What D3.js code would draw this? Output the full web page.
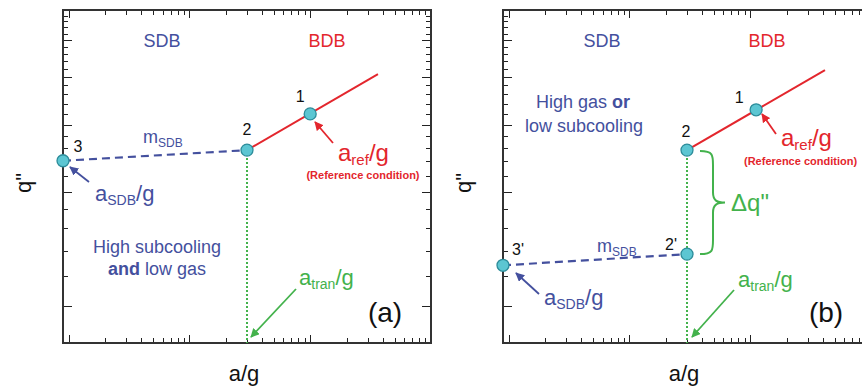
<!DOCTYPE html>
<html>
<head>
<meta charset="utf-8">
<script src="https://cdn.jsdelivr.net/npm/d3@7"></script>
<style>
  body { margin: 0; background: #fff; }
  svg { font-family: "Liberation Sans", Arial, sans-serif; }
</style>
</head>
<body>
<div id="chart"></div>
<script>
// axis ranges (log-log)
var xDomain = [0.009, 10];
var yDomain = [0.8, 6];
var xMajor = [0.01, 0.1, 1, 10];
var yMajor = [1, 2, 3, 4, 5];

// panel (a)
var ptsA = [{lab: "1", x: 1.0, y: 3.2}, {lab: "2", x: 0.3, y: 2.57}, {lab: "3", x: 0.009, y: 2.41}];
var bdbA = [[0.3, 2.57], [3.64, 4.07]];
var sdbA = [[0.009, 2.41], [0.3, 2.57]];

// panel (b)
var ptsB = [{lab: "1", x: 1.12, y: 3.28}, {lab: "2", x: 0.3, y: 2.57}, {lab: "2'", x: 0.3, y: 1.37}, {lab: "3'", x: 0.009, y: 1.28}];
var bdbB = [[0.3, 2.57], [4.16, 4.17]];
var sdbB = [[0.009, 1.28], [0.3, 1.37]];

var aTran = 0.3;

var blue = "#44509e", red = "#e3262d", green = "#43b24c";

var W = 368, H = 333;
var svg = d3.select("#chart").append("svg")
            .attr("width", 862)
            .attr("height", 391);

var defs = svg.append("defs");
[["blue", blue], ["red", red], ["green", green]].forEach(function(c) {
    defs.append("marker")
        .attr("id", "arr-" + c[0])
        .attr("viewBox", "0 0 10 10")
        .attr("refX", 9).attr("refY", 5)
        .attr("markerWidth", 5).attr("markerHeight", 5)
        .attr("markerUnits", "strokeWidth")
        .attr("orient", "auto")
        .append("path")
        .attr("d", "M0,0L10,5L0,10z")
        .attr("fill", c[1]);
});

var minorX = [];
[0.001, 0.01, 0.1, 1].forEach(function(d) {
    d3.range(2, 10).forEach(function(k) { minorX.push(d * k); });
});
var minorY = [];
yMajor.forEach(function(m) {
    [0.2, 0.4, 0.6, 0.8].forEach(function(f) { minorY.push(m + f); });
});

// text with optional subscripts: parts = [text, size, sub, bold]
function rich(g, x, y, parts, color, anchor) {
    var t = g.append("text")
        .attr("x", x).attr("y", y)
        .attr("fill", color)
        .attr("text-anchor", anchor || "start");
    var shift = 0;
    parts.forEach(function(p) {
        var dy = 0;
        if (p[2] && shift == 0) { dy = 4; shift = 4; }
        else if (!p[2] && shift != 0) { dy = -shift; shift = 0; }
        t.append("tspan")
            .attr("dy", dy)
            .attr("font-size", p[1])
            .attr("font-weight", p[3] ? "bold" : "normal")
            .text(p[0]);
    });
    return t;
}

function arrow(g, x1, y1, x2, y2, color, name) {
    g.append("line")
        .attr("x1", x1).attr("y1", y1)
        .attr("x2", x2).attr("y2", y2)
        .attr("stroke", color)
        .attr("stroke-width", 1.8)
        .attr("marker-end", "url(#arr-" + name + ")");
}

function drawPanel(left, pts, bdb, sdb, opts) {
    var g = svg.append("g").attr("transform", "translate(" + left + ",10)");
    var x = d3.scaleLog().domain(xDomain).range([0, W]);
    var y = d3.scaleLog().domain(yDomain).range([H, 0]);

    // ticks on all four sides, pointing inward
    var xm = xMajor.filter(function(v) { return v >= xDomain[0] && v <= xDomain[1]; });
    var xn = minorX.filter(function(v) { return v >= xDomain[0] && v <= xDomain[1]; });
    var tk = g.append("g").attr("stroke", "#222").attr("stroke-width", 1.5)
              .attr("shape-rendering", "crispEdges");
    function xt(vals, len) {
        vals.forEach(function(v) {
            var px = Math.round(x(v)) + 0.5;
            tk.append("line").attr("x1", px).attr("x2", px).attr("y1", H).attr("y2", H - len);
            tk.append("line").attr("x1", px).attr("x2", px).attr("y1", 0).attr("y2", len);
        });
    }
    function yt(vals, len) {
        vals.forEach(function(v) {
            var py = Math.round(y(v)) + 0.5;
            tk.append("line").attr("x1", 0).attr("x2", len).attr("y1", py).attr("y2", py);
            tk.append("line").attr("x1", W).attr("x2", W - len).attr("y1", py).attr("y2", py);
        });
    }
    xt(xm, 8); xt(xn, 5);
    yt(yMajor, 9); yt(minorY, 5);

    g.append("rect")
        .attr("width", W).attr("height", H)
        .attr("fill", "none")
        .attr("stroke", "#333")
        .attr("stroke-width", 2);

    var line = d3.line().x(function(d) { return x(d[0]); }).y(function(d) { return y(d[1]); });

    // transition line
    g.append("line")
        .attr("x1", x(aTran)).attr("x2", x(aTran))
        .attr("y1", y(bdb[0][1])).attr("y2", H)
        .attr("stroke", green)
        .attr("stroke-width", 2)
        .attr("stroke-dasharray", "2,2");

    g.append("path").attr("d", line(sdb))
        .attr("fill", "none").attr("stroke", blue)
        .attr("stroke-width", 2.2).attr("stroke-dasharray", "8,5");
    g.append("path").attr("d", line(bdb))
        .attr("fill", "none").attr("stroke", red)
        .attr("stroke-width", 2);

    g.selectAll("circle.pt").data(pts).enter().append("circle")
        .attr("class", "pt")
        .attr("cx", function(d) { return x(d.x); })
        .attr("cy", function(d) { return y(d.y); })
        .attr("r", 6)
        .attr("fill", "#5cc6d2")
        .attr("stroke", "#2c8c9a")
        .attr("stroke-width", 1.3);

    g.selectAll("text.plab").data(pts).enter().append("text")
        .attr("class", "plab")
        .attr("x", function(d) { return x(d.x) + opts.labOff[d.lab][0]; })
        .attr("y", function(d) { return y(d.y) + opts.labOff[d.lab][1]; })
        .attr("text-anchor", "middle")
        .attr("font-size", 16)
        .attr("fill", "#111")
        .text(function(d) { return d.lab; });

    g.append("text").attr("x", 99).attr("y", 37).attr("text-anchor", "middle")
        .attr("font-size", 18).attr("fill", blue).text("SDB");
    g.append("text").attr("x", 264).attr("y", 37).attr("text-anchor", "middle")
        .attr("font-size", 18).attr("fill", red).text("BDB");

    opts.extra(g, x, y);

    rich(g, W / 2 - 3, 371, [["a/g", 22]], "#111", "middle");
    svg.append("text")
        .attr("transform", "translate(" + (left - 32) + ",183) rotate(-90)")
        .attr("text-anchor", "middle")
        .attr("font-size", 22)
        .attr("fill", "#111")
        .text("q\"");
    return g;
}

drawPanel(63, ptsA, bdbA, sdbA, {
    labOff: {"1": [-10, -12], "2": [0, -15], "3": [15, -9]},
    extra: function(g, x, y) {
        rich(g, 80, 133, [["m", 18], ["SDB", 12, true]], blue);
        rich(g, 275, 151, [["a", 24], ["ref", 15, true], ["/g", 24]], red);
        g.append("text").attr("x", 300).attr("y", 169).attr("text-anchor", "middle")
            .attr("font-size", 11).attr("font-weight", "bold").attr("fill", red)
            .text("(Reference condition)");
        arrow(g, 270, 133, 252, 112, red, "red");
        rich(g, 32, 191, [["a", 22], ["SDB", 14, true], ["/g", 22]], blue);
        arrow(g, 26, 172, 7, 157, blue, "blue");
        rich(g, 94, 243, [["High subcooling", 18]], blue, "middle");
        rich(g, 94, 265, [["and", 18, false, true], [" low gas", 18]], blue, "middle");
        rich(g, 236, 275, [["a", 22], ["tran", 14, true], ["/g", 22]], green);
        arrow(g, 233, 279, 188, 327, green, "green");
        g.append("text").attr("x", 322).attr("y", 312).attr("text-anchor", "middle")
            .attr("font-size", 28).attr("fill", "#111").text("(a)");
    }
});

drawPanel(503, ptsB, bdbB, sdbB, {
    labOff: {"1": [-17, -7], "2": [-1, -13], "2'": [-16, -4], "3'": [15, -10]},
    extra: function(g, x, y) {
        rich(g, 80, 98, [["High gas ", 18], ["or", 18, false, true]], blue, "middle");
        rich(g, 81, 122, [["low subcooling", 18]], blue, "middle");
        rich(g, 278, 136, [["a", 24], ["ref", 15, true], ["/g", 24]], red);
        g.append("text").attr("x", 241).attr("y", 155)
            .attr("font-size", 11).attr("font-weight", "bold").attr("fill", red)
            .text("(Reference condition)");
        arrow(g, 273, 124, 259, 104, red, "red");
        rich(g, 94, 242, [["m", 18], ["SDB", 12, true]], blue);
        rich(g, 41, 295, [["a", 22], ["SDB", 14, true], ["/g", 22]], blue);
        arrow(g, 36, 284, 13, 263, blue, "blue");
        rich(g, 235, 277, [["a", 22], ["tran", 14, true], ["/g", 22]], green);
        arrow(g, 231, 280, 189, 327, green, "green");
        g.append("text").attr("x", 323).attr("y", 312).attr("text-anchor", "middle")
            .attr("font-size", 28).attr("fill", "#111").text("(b)");

        // brace between 2 and 2'
        var xb = x(aTran) + 13, y1 = y(ptsB[1].y) + 1, y2 = y(ptsB[2].y), ym = (y1 + y2) / 2;
        var bx = xb + 13;
        g.append("path")
            .attr("d", "M" + xb + "," + y1 +
                " C" + (bx) + "," + y1 + " " + (bx) + "," + (y1 + 4) + " " + (bx) + "," + (y1 + 14) +
                " L" + bx + "," + (ym - 10) +
                " C" + bx + "," + (ym - 2) + " " + (bx + 4) + "," + ym + " " + (bx + 12) + "," + ym +
                " C" + (bx + 4) + "," + ym + " " + bx + "," + (ym + 2) + " " + bx + "," + (ym + 10) +
                " L" + bx + "," + (y2 - 14) +
                " C" + bx + "," + (y2 - 4) + " " + bx + "," + y2 + " " + xb + "," + y2)
            .attr("fill", "none")
            .attr("stroke", green)
            .attr("stroke-width", 2);
        g.append("text").attr("x", bx + 18).attr("y", ym + 8)
            .attr("font-size", 24).attr("fill", green).text("\u0394q\"");
    }
});
</script>
</body>
</html>
